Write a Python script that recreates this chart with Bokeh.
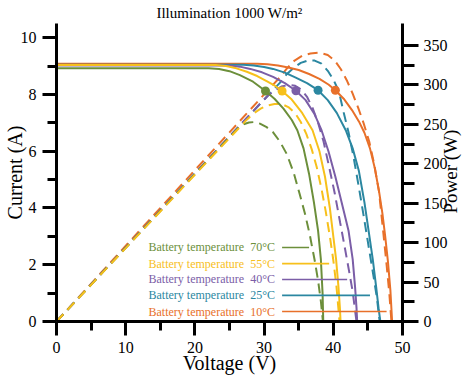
from math import pi
from bokeh.plotting import figure
from bokeh.models import Range1d, LinearAxis, FixedTicker
from bokeh.embed import file_html
from bokeh.resources import INLINE

# ---------------- data ----------------
temps = ["70°C", "55°C", "40°C", "25°C", "10°C"]
colors = ["#6c8f3b", "#f7c01b", "#7b5ea7", "#2b87a1", "#e8702a"]

# I-V curves (solid), left axis: Current (A)
v_iv_70 = [0, 22, 23.5, 25, 26.5, 28.4, 30.2, 31.5, 32.8, 34, 34.8, 35.7, 36.5, 37.2, 37.8, 38.2, 38.45, 38.55]
i_iv_70 = [8.92, 8.92, 8.9, 8.82, 8.68, 8.45, 8.12, 7.85, 7.5, 7.1, 6.74, 6.1, 5.2, 4.2, 3.2, 2.2, 1.0, 0]
v_iv_55 = [0, 23, 24.5, 26, 27.5, 29, 30.5, 31.6, 32.6, 34, 35.5, 37.0, 38.0, 38.8, 39.5, 39.9, 40.4, 40.75, 40.95, 41.05]
i_iv_55 = [9.04, 9.04, 9.0, 8.92, 8.8, 8.65, 8.45, 8.3, 8.12, 7.82, 7.35, 6.74, 6.0, 5.1, 4.0, 3.2, 2.2, 1.2, 0.5, 0]
v_iv_40 = [0, 25, 26.5, 28, 29.7, 31.3, 33, 34.6, 36, 37.3, 38.3, 39.3, 40.3, 41.2, 41.8, 42.2, 42.8, 43.15, 43.35, 43.45]
i_iv_40 = [9.02, 9.02, 8.98, 8.9, 8.78, 8.62, 8.4, 8.13, 7.8, 7.3, 6.74, 6.0, 5.1, 4.2, 3.6, 3.2, 2.2, 1.2, 0.5, 0]
v_iv_25 = [0, 27, 28.5, 30, 31.3, 33, 34.5, 36.2, 37.8, 39.2, 40.5, 41.8, 42.8, 43.7, 44.5, 45.1, 45.7, 46.2, 46.55, 46.8]
i_iv_25 = [9.05, 9.05, 9.02, 8.97, 8.9, 8.77, 8.6, 8.4, 8.15, 7.8, 7.35, 6.74, 6.1, 5.3, 4.2, 3.2, 2.2, 1.2, 0.45, 0]
v_iv_10 = [0, 29, 30.5, 32, 33.5, 35, 36.5, 38, 39.3, 40.3, 41.5, 42.7, 43.7, 44.5, 45.3, 46.0, 46.6, 47.1, 47.5, 47.9, 48.25, 48.5]
i_iv_10 = [9.08, 9.08, 9.06, 9.02, 8.95, 8.86, 8.72, 8.55, 8.35, 8.15, 7.85, 7.45, 7.05, 6.65, 6.1, 5.4, 4.6, 3.8, 3.0, 2.1, 1.1, 0]

# P-V curves (dashed), right axis: Power (W)
v_pv_70 = [0, 26.2, 27, 27.8, 28.6, 29.4, 30.3, 31.3, 32.3, 33.3, 34.3, 35.1, 35.9, 36.6, 37.3, 37.8, 38.2, 38.5]
p_pv_70 = [0, 245, 250, 252.5, 253, 251, 247, 240, 228, 212, 188, 163, 137, 110, 78, 52, 26, 0]
v_pv_55 = [0, 27.5, 28.5, 29.5, 30.5, 31.5, 32.5, 33.5, 34.5, 35.3, 36.1, 36.9, 37.6, 38.3, 38.9, 39.5, 40.0, 40.45, 40.9]
p_pv_55 = [0, 256, 264, 270, 274, 276, 276, 272, 264, 253, 238, 218, 196, 168, 140, 108, 78, 45, 0]
v_pv_40 = [0, 29.5, 30.5, 31.5, 32.5, 33.5, 34.5, 35.4, 36.2, 37.0, 37.8, 38.6, 39.4, 40.2, 41.0, 41.7, 42.3, 42.8, 43.35]
p_pv_40 = [0, 277, 286, 293, 298, 300, 299, 294, 285, 271, 252, 228, 196, 163, 125, 92, 63, 38, 0]
v_pv_25 = [0, 32.3, 33.3, 34.3, 35.3, 36.3, 37.3, 38.3, 39.2, 40.0, 40.8, 41.5, 42.2, 42.9, 43.7, 44.5, 45.2, 45.8, 46.3, 46.7]
p_pv_25 = [0, 303, 314, 322, 328, 331, 331, 327, 318, 307, 292, 265, 240, 210, 170, 128, 90, 58, 30, 0]
v_pv_10 = [0, 32.3, 33.3, 34.4, 35.5, 36.7, 38.0, 39.2, 40.2, 41.1, 42.0, 42.8, 43.6, 44.4, 45.2, 45.9, 46.6, 47.2, 47.7, 48.1, 48.4]
p_pv_10 = [0, 310, 321, 331, 337, 340, 341, 338, 331, 320, 305, 289, 271, 251, 228, 200, 165, 115, 72, 35, 0]

# maximum power points on the I-V curves
mpp_v = [30.2, 32.6, 34.6, 37.8, 40.3]
mpp_i = [8.12, 8.12, 8.13, 8.15, 8.15]

x_ticks = [0, 10, 20, 30, 40, 50]
x_minor = [5, 15, 25, 35, 45]
y_ticks = [0, 2, 4, 6, 8, 10]
y_minor = [1, 3, 5, 7, 9]
p_ticks = [0, 50, 100, 150, 200, 250, 300, 350]
p_minor = [25, 75, 125, 175, 225, 275, 325]

iv_v = [v_iv_70, v_iv_55, v_iv_40, v_iv_25, v_iv_10]
iv_i = [i_iv_70, i_iv_55, i_iv_40, i_iv_25, i_iv_10]
pv_v = [v_pv_70, v_pv_55, v_pv_40, v_pv_25, v_pv_10]
pv_p = [p_pv_70, p_pv_55, p_pv_40, p_pv_25, p_pv_10]

# ---------------- figure ----------------
FONT = "Liberation Serif"
p = figure(width=474, height=379, x_range=Range1d(0, 50), y_range=Range1d(0, 10.5),
           output_backend="svg", toolbar_location=None,
           min_border_left=56, min_border_right=71, min_border_top=23, min_border_bottom=58)
p.extra_y_ranges = {"power": Range1d(0, 378)}
p.outline_line_color = None
p.grid.visible = False
p.background_fill_color = "white"
p.border_fill_color = "white"

p.title.text = "Illumination 1000 W/m\u00b2"
p.title.align = "center"
p.title.text_font = FONT
p.title.text_font_size = "15px"
p.title.text_font_style = "normal"
p.title.text_color = "black"
p.title.standoff = 5
p.title.offset = 4

right = LinearAxis(y_range_name="power")
p.add_layout(right, "right")

xa = p.xaxis[0]
ya = p.yaxis[0]
xa.ticker = FixedTicker(ticks=x_ticks, minor_ticks=x_minor)
ya.ticker = FixedTicker(ticks=y_ticks, minor_ticks=y_minor)
right.ticker = FixedTicker(ticks=p_ticks, minor_ticks=p_minor)

for ax in [xa, ya, right]:
    ax.axis_line_width = 3
    ax.axis_line_color = "black"
    ax.major_tick_line_width = 3
    ax.minor_tick_line_width = 3
    ax.major_tick_in = 0
    ax.minor_tick_in = 0
    ax.major_tick_out = 14
    ax.minor_tick_out = 9
    ax.major_label_text_font = FONT
    ax.major_label_text_font_size = "16px"
    ax.major_label_text_color = "black"
    ax.major_label_standoff = 6
    ax.axis_label_text_font = FONT
    ax.axis_label_text_font_style = "normal"
    ax.axis_label_text_color = "black"
right.major_tick_out = 16
right.minor_tick_out = 12
right.major_label_standoff = 5

xa.axis_label = "Voltage (V)"
xa.axis_label_text_font_size = "20px"
xa.axis_label_standoff = -4
ya.axis_label = "Current (A)"
ya.axis_label_text_font_size = "20px"
ya.axis_label_standoff = -8

# "Power (W)" as a rotated (reading upwards) label on a bare outer right axis
POWER_LABEL_AT = 137
label_axis = LinearAxis(y_range_name="power",
                        ticker=FixedTicker(ticks=[POWER_LABEL_AT], minor_ticks=[]),
                        major_label_overrides={POWER_LABEL_AT: "Power (W)"})
label_axis.axis_line_color = None
label_axis.major_tick_line_color = None
label_axis.minor_tick_line_color = None
label_axis.major_tick_out = 0
label_axis.minor_tick_out = 0
label_axis.major_label_orientation = pi / 2
label_axis.major_label_standoff = 0
label_axis.major_label_text_font = FONT
label_axis.major_label_text_font_size = "19px"
label_axis.major_label_text_color = "black"
p.add_layout(label_axis, "right")

# power curves (dashed)
for k in [4, 3, 2, 0, 1]:
    p.line(pv_v[k], pv_p[k], y_range_name="power", line_color=colors[k],
           line_width=2, line_dash="10 6")
# I-V curves (solid)
for k in [4, 3, 2, 0, 1]:
    p.line(iv_v[k], iv_i[k], line_color=colors[k], line_width=2)
# maximum power points
p.scatter(mpp_v, mpp_i, size=9, color=colors, line_color=None)

# legend (text + sample lines)
leg_y = [2.61, 2.04, 1.48, 0.92, 0.35]
leg_x_text = 13.3
leg_x0 = 32.6
leg_x1 = [36.5, 39.4, 42.0, 45.3, 47.7]
leg_text = ["Battery temperature\u00a0\u00a0" + t for t in temps]
p.text(x=[leg_x_text] * 5, y=leg_y, text=leg_text, text_color=colors,
       text_font={"value": FONT}, text_font_size={"value": "12px"},
       text_align="left", text_baseline="middle")
for k in range(5):
    p.line([leg_x0, leg_x1[k]], [leg_y[k], leg_y[k]], line_color=colors[k], line_width=1.6)

open("out.html", "w").write(file_html(p, INLINE))
